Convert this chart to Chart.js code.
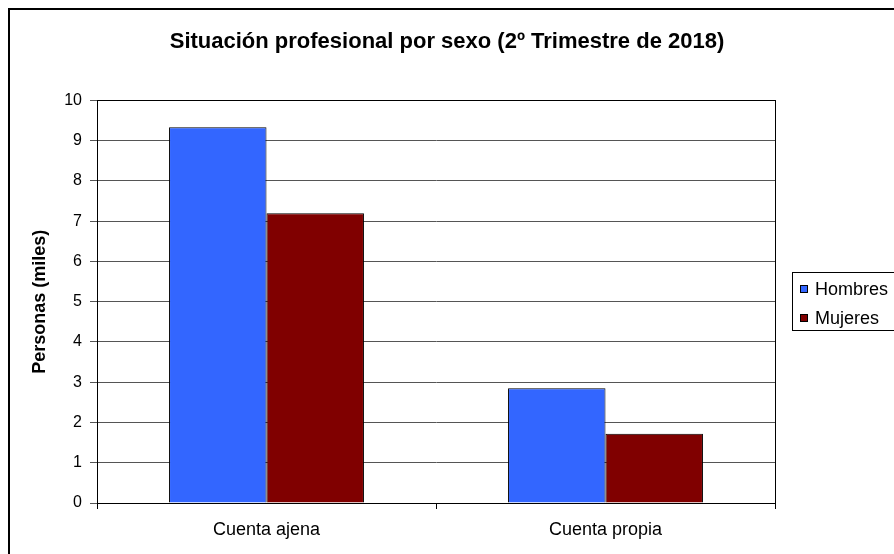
<!DOCTYPE html>
<html>
<head>
<meta charset="utf-8">
<script src="https://cdn.jsdelivr.net/npm/chart.js@4/dist/chart.umd.min.js"></script>
<style>
  html, body { margin: 0; padding: 0; background: #fff; }
  #wrap { width: 894px; height: 554px; }
</style>
</head>
<body>
<div id="wrap"><canvas id="chart" width="894" height="554"></canvas></div>
<script>
// Data
const categories = ['Cuenta ajena', 'Cuenta propia'];
const hombres = [9.33, 2.85];
const mujeres = [7.2, 1.72];
const seriesNames = ['Hombres', 'Mujeres'];
const yTicks = [0, 1, 2, 3, 4, 5, 6, 7, 8, 9, 10];

const FONT = 'Arial, "Liberation Sans", sans-serif';

// White background, outer frame, plot frame and boxed legend
const framePlugin = {
  id: 'frame',
  beforeDraw(chart) {
    const ctx = chart.ctx;
    ctx.save();
    ctx.fillStyle = '#fff';
    ctx.fillRect(0, 0, chart.width, chart.height);
    ctx.strokeStyle = '#000';
    ctx.lineWidth = 2;
    ctx.strokeRect(9, 9, chart.width + 20, chart.height + 20);
    ctx.restore();
  },
  afterDraw(chart) {
    const ctx = chart.ctx;
    const a = chart.chartArea;
    ctx.save();
    ctx.strokeStyle = '#000';
    ctx.lineWidth = 1;
    ctx.strokeRect(Math.round(a.left) + 0.5, Math.round(a.top) + 0.5,
      Math.round(a.right - a.left), Math.round(a.bottom - a.top));

    // legend
    const boxX = a.right + 17, boxY = 272, boxH = 58;
    ctx.fillStyle = '#fff';
    ctx.fillRect(boxX, boxY, 200, boxH);
    ctx.strokeRect(boxX + 0.5, boxY + 0.5, 200, boxH);
    ctx.font = '18px ' + FONT;
    ctx.textBaseline = 'middle';
    ctx.textAlign = 'left';
    chart.data.datasets.forEach((ds, i) => {
      const cy = boxY + 17 + i * 29;
      ctx.fillStyle = ds.backgroundColor;
      ctx.fillRect(boxX + 8, cy - 4, 8, 8);
      ctx.strokeRect(boxX + 8.5, cy - 3.5, 7, 7);
      ctx.fillStyle = '#000';
      ctx.fillText(ds.label, boxX + 23, cy + 1);
    });
    ctx.restore();
  }
};

new Chart(document.getElementById('chart'), {
  type: 'bar',
  data: {
    labels: categories,
    datasets: [
      { label: seriesNames[0], data: hombres, backgroundColor: '#3366ff', borderColor: '#000', borderWidth: 1 },
      { label: seriesNames[1], data: mujeres, backgroundColor: '#800000', borderColor: '#000', borderWidth: 1 }
    ]
  },
  options: {
    responsive: false,
    animation: false,
    layout: { padding: { top: 8, left: 8, right: 8, bottom: 0 } },
    datasets: { bar: { barPercentage: 1, categoryPercentage: 0.575 } },
    plugins: {
      legend: { display: false },
      tooltip: { enabled: false },
      title: {
        display: true,
        text: 'Situación profesional por sexo (2º Trimestre de 2018)',
        color: '#000',
        font: { family: FONT, size: 22, weight: 'bold' },
        padding: { top: 21, bottom: 45 }
      }
    },
    scales: {
      x: {
        grid: { display: true, drawOnChartArea: false, offset: true, tickLength: 6, color: '#000' },
        border: { color: '#000' },
        ticks: { color: '#000', padding: 10, font: { family: FONT, size: 18 } },
        afterFit(s) { s.height = 51; }
      },
      y: {
        min: 0,
        max: 10,
        afterBuildTicks(s) { s.ticks = yTicks.map(v => ({ value: v })); },
        grid: { color: '#555', tickLength: 7 },
        border: { color: '#000' },
        ticks: { color: '#000', padding: 8, font: { family: FONT, size: 16 } },
        title: {
          display: true,
          text: 'Personas (miles)',
          color: '#000',
          font: { family: FONT, size: 18, weight: 'bold' },
          padding: { top: 21, bottom: 21 }
        },
        afterFit(s) { s.width = 89; }
      },
      y2: {
        position: 'right',
        grid: { display: false },
        border: { display: false },
        ticks: { display: false },
        afterFit(s) { s.width = 111; }
      }
    }
  },
  plugins: [framePlugin]
});
</script>
</body>
</html>
